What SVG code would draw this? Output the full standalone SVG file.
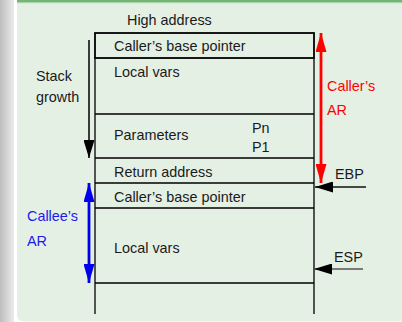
<svg xmlns="http://www.w3.org/2000/svg" width="402" height="322" viewBox="0 0 402 322">
<defs>
<linearGradient id="side" x1="0" y1="0" x2="1" y2="0">
<stop offset="0" stop-color="#bdbdbd"/>
<stop offset="1" stop-color="#ececec"/>
</linearGradient>
<marker id="hBlk" viewBox="0 0 18 11" refX="18" refY="5.5" markerWidth="18" markerHeight="11" markerUnits="userSpaceOnUse" orient="auto"><path d="M0,0 L18,5.5 L0,11 Z" fill="#000"/></marker>
<marker id="hRed" viewBox="0 0 19 11" refX="19" refY="5.5" markerWidth="19" markerHeight="11" markerUnits="userSpaceOnUse" orient="auto-start-reverse"><path d="M0,0 L19,5.5 L0,11 Z" fill="#ff0000"/></marker>
<marker id="hBlue" viewBox="0 0 19 11" refX="19" refY="5.5" markerWidth="19" markerHeight="11" markerUnits="userSpaceOnUse" orient="auto-start-reverse"><path d="M0,0 L19,5.5 L0,11 Z" fill="#0000ee"/></marker>
</defs>
<style>
text{font-family:"Liberation Sans",Arial,sans-serif;font-size:14.4px;fill:#1a1a1a}
.red{fill:#ff0000}
.blue{fill:#1a1aee}
.ln{stroke:#000;stroke-width:1.3;fill:none}
</style>
<rect x="0" y="0" width="402" height="322" fill="#ffffff"/>
<rect x="0" y="0" width="14" height="322" fill="url(#side)"/>
<rect x="17" y="-10" width="400" height="331.5" rx="6" fill="#e5f0e5"/>
<rect x="17" y="0" width="385" height="2" fill="#74b474"/>
<rect x="17" y="2" width="385" height="1.2" fill="#a9d3a9"/>

<g id="frame">
<rect x="95" y="33" width="219" height="25" fill="none" stroke="#000" stroke-width="1.8"/>
<line class="ln" x1="95" y1="58" x2="95" y2="314"/>
<line class="ln" x1="314" y1="58" x2="314" y2="314"/>
<line class="ln" x1="95" y1="114" x2="314" y2="114"/>
<line class="ln" x1="95" y1="158" x2="314" y2="158"/>
<line class="ln" x1="95" y1="183" x2="314" y2="183"/>
<line class="ln" x1="95" y1="208" x2="314" y2="208"/>
<line class="ln" x1="95" y1="283" x2="314" y2="283"/>
</g>

<g id="labels">
<text x="127" y="25">High address</text>
<text x="114" y="51">Caller’s base pointer</text>
<text x="114" y="77">Local vars</text>
<text x="114" y="140">Parameters</text>
<text x="252" y="133">Pn</text>
<text x="252" y="152">P1</text>
<text x="114" y="177">Return address</text>
<text x="114" y="202">Caller’s base pointer</text>
<text x="114" y="253">Local vars</text>
<text x="36" y="81">Stack</text>
<text x="36" y="102">growth</text>
<text class="red" x="327" y="91">Caller’s</text>
<text class="red" x="327" y="115">AR</text>
<text class="blue" x="27" y="221">Callee’s</text>
<text class="blue" x="27" y="246">AR</text>
<text x="335" y="179">EBP</text>
<text x="334" y="262">ESP</text>
</g>

<g id="connectors">
<line x1="89" y1="40" x2="89" y2="158" stroke="#000" stroke-width="1.5" marker-end="url(#hBlk)"/>
<line x1="321" y1="33" x2="321" y2="183" stroke="#ff0000" stroke-width="2.8" marker-start="url(#hRed)" marker-end="url(#hRed)"/>
<line x1="89" y1="183" x2="89" y2="283" stroke="#0000ee" stroke-width="2.8" marker-start="url(#hBlue)" marker-end="url(#hBlue)"/>
<line x1="366" y1="187" x2="315" y2="187" stroke="#111" stroke-width="1.4" marker-end="url(#hBlk)"/>
<line x1="363" y1="269" x2="314" y2="269" stroke="#555" stroke-width="1.6" marker-end="url(#hBlk)"/>
</g>
</svg>
